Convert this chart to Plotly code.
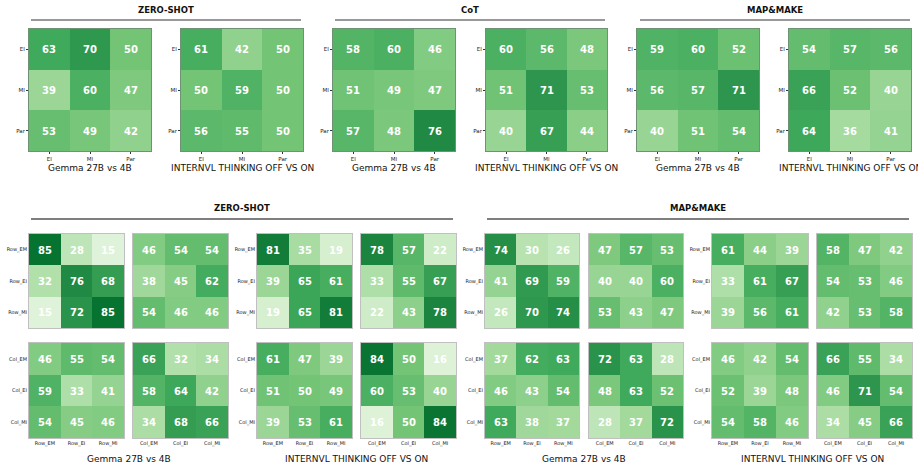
import plotly.graph_objects as go

W, H = 918, 469

# ---------------- DATA ----------------
top_labels = ["EI", "MI", "Par"]
row_labels = ["Row_EM", "Row_EI", "Row_MI"]
col_labels = ["Col_EM", "Col_EI", "Col_MI"]

zs_gemma = [[63, 70, 50], [39, 60, 47], [53, 49, 42]]
zs_internvl = [[61, 42, 50], [50, 59, 50], [56, 55, 50]]
cot_gemma = [[58, 60, 46], [51, 49, 47], [57, 48, 76]]
cot_internvl = [[60, 56, 48], [51, 71, 53], [40, 67, 44]]
mm_gemma = [[59, 60, 52], [56, 57, 71], [40, 51, 54]]
mm_internvl = [[54, 57, 56], [66, 52, 40], [64, 36, 41]]

# bottom section: [row-row, row-col] on top; [col-row, col-col] below
zs_gemma_rr = [[85, 28, 15], [32, 76, 68], [15, 72, 85]]
zs_gemma_rc = [[46, 54, 54], [38, 45, 62], [54, 46, 46]]
zs_gemma_cr = [[46, 55, 54], [59, 33, 41], [54, 45, 46]]
zs_gemma_cc = [[66, 32, 34], [58, 64, 42], [34, 68, 66]]

zs_internvl_rr = [[81, 35, 19], [39, 65, 61], [19, 65, 81]]
zs_internvl_rc = [[78, 57, 22], [33, 55, 67], [22, 43, 78]]
zs_internvl_cr = [[61, 47, 39], [51, 50, 49], [39, 53, 61]]
zs_internvl_cc = [[84, 50, 16], [60, 53, 40], [16, 50, 84]]

mm_gemma_rr = [[74, 30, 26], [41, 69, 59], [26, 70, 74]]
mm_gemma_rc = [[47, 57, 53], [40, 40, 60], [53, 43, 47]]
mm_gemma_cr = [[37, 62, 63], [46, 43, 54], [63, 38, 37]]
mm_gemma_cc = [[72, 63, 28], [48, 63, 52], [28, 37, 72]]

mm_internvl_rr = [[61, 44, 39], [33, 61, 67], [39, 56, 61]]
mm_internvl_rc = [[58, 47, 42], [54, 53, 46], [42, 53, 58]]
mm_internvl_cr = [[46, 42, 54], [52, 39, 48], [54, 58, 46]]
mm_internvl_cc = [[66, 55, 34], [46, 71, 54], [34, 45, 66]]

top_groups = ["ZERO-SHOT", "CoT", "MAP&MAKE"]
bottom_groups = ["ZERO-SHOT", "MAP&MAKE"]
model_titles = ["Gemma 27B vs 4B", "INTERNVL THINKING OFF VS ON"]

# ---------------- STYLE ----------------
greens = [[0.0, "#f7fcf5"], [0.125, "#e5f5e0"], [0.25, "#c7e9c0"], [0.375, "#a1d99b"],
          [0.5, "#74c476"], [0.625, "#41ab5d"], [0.75, "#238b45"], [0.875, "#006d2c"],
          [1.0, "#00441b"]]
FONT = "DejaVu Sans"

def px_x(x):
    return x / W

def px_y(y):
    return 1 - y / H

fig = go.Figure()
layout = {}
idx = [0]

def add_heat(z, xlabels, ylabels, x0, x1, y0, y1, show_x, show_y, ticks, border, tsize, fsize):
    idx[0] += 1
    i = idx[0]
    sfx = "" if i == 1 else str(i)
    fig.add_trace(go.Heatmap(
        z=z, x=xlabels, y=ylabels, colorscale=greens, zmin=0, zmax=100,
        showscale=False, texttemplate="<b>%{z}</b>",
        textfont=dict(color="white", size=fsize, family=FONT),
        xaxis="x" + sfx, yaxis="y" + sfx, hoverinfo="skip"))
    layout["xaxis" + sfx] = dict(
        domain=[px_x(x0), px_x(x1)], anchor="y" + sfx,
        showticklabels=show_x, ticks=("outside" if (ticks and show_x) else ""),
        ticklen=2, tickwidth=0.6, tickcolor="#333",
        tickfont=dict(size=tsize, family=FONT, color="#222"),
        showline=True, mirror=True, linecolor=border, linewidth=1,
        showgrid=False, zeroline=False, fixedrange=True)
    layout["yaxis" + sfx] = dict(
        domain=[px_y(y1), px_y(y0)], anchor="x" + sfx, autorange="reversed",
        showticklabels=show_y, ticks=("outside" if (ticks and show_y) else ""),
        ticklen=2, tickwidth=0.6, tickcolor="#333",
        tickfont=dict(size=tsize, family=FONT, color="#222"),
        showline=True, mirror=True, linecolor=border, linewidth=1,
        showgrid=False, zeroline=False, fixedrange=True)

def label(text, x, y, size, bold=False):
    return dict(text=("<b>" + text + "</b>") if bold else text,
                x=px_x(x), y=px_y(y), xref="paper", yref="paper",
                xanchor="center", yanchor="middle", showarrow=False,
                font=dict(size=size, family=FONT, color="#111"))

# ---- top row ----
top_data = [zs_gemma, zs_internvl, cot_gemma, cot_internvl, mm_gemma, mm_internvl]
top_x = [(29, 151), (181, 303), (333, 455), (486, 607), (637, 759), (789, 911)]
for z, (x0, x1) in zip(top_data, top_x):
    add_heat(z, top_labels, top_labels, x0, x1, 29, 151, True, True, True,
             "rgba(60,110,70,0.75)", 5.5, 10)

annotations = []
shapes = []
top_group_x = [(31, 301), (335, 605), (640, 910)]
for name, (a, b) in zip(top_groups, top_group_x):
    annotations.append(label(name, (a + b) / 2, 10, 8.5, bold=True))
    shapes.append(dict(type="line", xref="paper", yref="paper",
                       x0=px_x(a), x1=px_x(b), y0=px_y(20), y1=px_y(20),
                       line=dict(color="#333", width=1)))
for k, (x0, x1) in enumerate(top_x):
    annotations.append(label(model_titles[k % 2], (x0 + x1) / 2, 168, 9))

# ---- bottom section ----
bottom_sets = [
    (zs_gemma_rr, zs_gemma_rc, zs_gemma_cr, zs_gemma_cc),
    (zs_internvl_rr, zs_internvl_rc, zs_internvl_cr, zs_internvl_cc),
    (mm_gemma_rr, mm_gemma_rc, mm_gemma_cr, mm_gemma_cc),
    (mm_internvl_rr, mm_internvl_rc, mm_internvl_cr, mm_internvl_cc),
]
bottom_x = [((29, 124), (133, 228)), ((257, 352), (361, 456)),
            ((485, 579), (589, 683)), ((712, 808), (817, 912))]
rows_y = [(234, 328), (343, 438)]
bborder = "rgba(150,150,150,0.6)"
for (rr, rc, cr, cc), ((ax0, ax1), (bx0, bx1)) in zip(bottom_sets, bottom_x):
    add_heat(rr, row_labels, row_labels, ax0, ax1, *rows_y[0], False, True, False, bborder, 5, 10)
    add_heat(rc, col_labels, row_labels, bx0, bx1, *rows_y[0], False, False, False, bborder, 5, 10)
    add_heat(cr, row_labels, col_labels, ax0, ax1, *rows_y[1], True, True, False, bborder, 5, 10)
    add_heat(cc, col_labels, col_labels, bx0, bx1, *rows_y[1], True, False, False, bborder, 5, 10)

bottom_group_x = [(31, 453), (487, 909)]
for name, (a, b) in zip(bottom_groups, bottom_group_x):
    annotations.append(label(name, (a + b) / 2, 208, 8.5, bold=True))
    shapes.append(dict(type="line", xref="paper", yref="paper",
                       x0=px_x(a), x1=px_x(b), y0=px_y(219), y1=px_y(219),
                       line=dict(color="#555", width=1.5)))
for k, ((ax0, ax1), (bx0, bx1)) in enumerate(bottom_x):
    annotations.append(label(model_titles[k % 2], (ax0 + bx1) / 2, 459, 9))

fig.update_layout(
    width=W, height=H, margin=dict(l=0, r=0, t=0, b=0),
    paper_bgcolor="white", plot_bgcolor="white",
    font=dict(family=FONT), showlegend=False,
    annotations=annotations, shapes=shapes, **layout)

fig.write_html("out.html")
